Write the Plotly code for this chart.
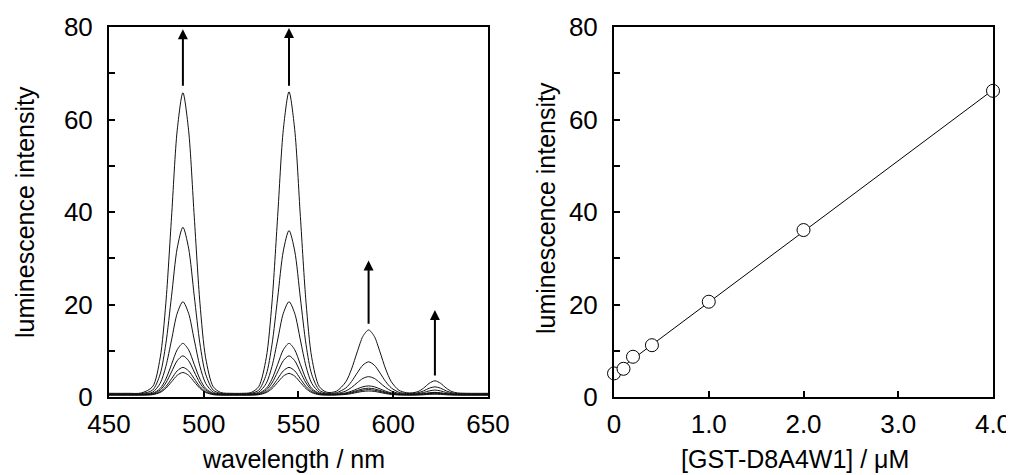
import plotly.graph_objects as go

# --- left panel: luminescence spectra ---
wavelength = [450, 460, 467, 473, 477, 480, 483, 486, 489, 492, 495, 498, 501, 505, 509,
              515, 520, 525, 529, 533, 536, 539, 542, 545, 548, 551, 554, 557, 561, 565,
              570, 575, 578, 581, 584, 587, 590, 593, 596, 599, 603, 607, 610, 613, 616,
              619, 622, 625, 628, 631, 634, 640, 650]

spec_1 = [0.40, 0.40, 0.40, 0.51, 0.98, 1.87, 3.27, 4.69, 5.30, 4.69, 3.27, 1.87, 0.98, 0.51, 0.41,
          0.40, 0.40, 0.41, 0.50, 0.95, 1.81, 3.15, 4.51, 5.10, 4.51, 3.15, 1.81, 0.95, 0.50, 0.41,
          0.43, 0.56, 0.74, 0.99, 1.21, 1.30, 1.21, 0.99, 0.74, 0.56, 0.44, 0.41, 0.41, 0.43, 0.48,
          0.56, 0.60, 0.56, 0.48, 0.43, 0.41, 0.40, 0.40]
spec_2 = [0.45, 0.45, 0.46, 0.58, 1.15, 2.24, 3.94, 5.66, 6.40, 5.66, 3.94, 2.24, 1.15, 0.58, 0.47,
          0.45, 0.45, 0.47, 0.58, 1.15, 2.24, 3.94, 5.66, 6.40, 5.66, 3.94, 2.24, 1.15, 0.58, 0.47,
          0.49, 0.66, 0.89, 1.20, 1.48, 1.60, 1.48, 1.20, 0.89, 0.66, 0.51, 0.46, 0.46, 0.50, 0.59,
          0.73, 0.80, 0.73, 0.59, 0.50, 0.46, 0.45, 0.45]
spec_3 = [0.50, 0.50, 0.51, 0.68, 1.49, 3.02, 5.42, 7.85, 8.90, 7.85, 5.42, 3.02, 1.49, 0.68, 0.52,
          0.50, 0.50, 0.52, 0.68, 1.49, 3.02, 5.42, 7.85, 8.90, 7.85, 5.42, 3.02, 1.49, 0.68, 0.53,
          0.55, 0.75, 1.04, 1.41, 1.76, 1.90, 1.76, 1.41, 1.04, 0.75, 0.57, 0.51, 0.51, 0.55, 0.66,
          0.82, 0.90, 0.82, 0.66, 0.55, 0.51, 0.50, 0.50]
spec_4 = [0.55, 0.55, 0.56, 0.79, 1.85, 3.87, 7.03, 10.22, 11.60, 10.22, 7.03, 3.87, 1.85, 0.79, 0.58,
          0.55, 0.55, 0.58, 0.79, 1.85, 3.87, 7.03, 10.22, 11.60, 10.22, 7.03, 3.87, 1.85, 0.79, 0.59,
          0.61, 0.89, 1.26, 1.76, 2.21, 2.40, 2.21, 1.76, 1.26, 0.89, 0.64, 0.57, 0.56, 0.61, 0.73,
          0.91, 1.00, 0.91, 0.73, 0.61, 0.56, 0.55, 0.55]
spec_5 = [0.60, 0.60, 0.62, 1.04, 2.96, 6.60, 12.32, 18.10, 20.60, 18.10, 12.32, 6.60, 2.96, 1.04, 0.65,
          0.60, 0.60, 0.65, 1.04, 2.96, 6.60, 12.32, 18.10, 20.60, 18.10, 12.32, 6.60, 2.96, 1.04, 0.67,
          0.73, 1.29, 2.06, 3.08, 4.02, 4.40, 4.02, 3.08, 2.06, 1.29, 0.78, 0.63, 0.63, 0.72, 0.97,
          1.32, 1.50, 1.32, 0.97, 0.72, 0.63, 0.60, 0.60]
spec_6 = [0.70, 0.70, 0.74, 1.49, 4.95, 11.50, 21.80, 32.20, 36.70, 32.20, 21.80, 11.50, 4.95, 1.49, 0.79,
          0.70, 0.70, 0.79, 1.48, 4.87, 11.29, 21.39, 31.59, 36.00, 31.59, 21.39, 11.29, 4.87, 1.48, 0.81,
          0.93, 1.96, 3.34, 5.21, 6.90, 7.60, 6.90, 5.21, 3.34, 1.96, 1.03, 0.77, 0.75, 0.90, 1.32,
          1.90, 2.20, 1.90, 1.32, 0.90, 0.74, 0.70, 0.70]
spec_7 = [0.80, 0.80, 0.87, 2.23, 8.47, 20.30, 38.89, 57.68, 65.80, 57.68, 38.89, 20.30, 8.47, 2.23, 0.97,
          0.80, 0.80, 0.97, 2.23, 8.49, 20.36, 39.01, 57.85, 66.00, 57.85, 39.01, 20.36, 8.49, 2.23, 1.02,
          1.25, 3.29, 6.05, 9.75, 13.12, 14.50, 13.12, 9.75, 6.05, 3.29, 1.46, 0.93, 0.90, 1.16, 1.91,
          2.96, 3.50, 2.96, 1.91, 1.16, 0.88, 0.80, 0.80]
spectra = [spec_1, spec_2, spec_3, spec_4, spec_5, spec_6, spec_7]

# --- right panel: intensity vs protein concentration ---
conc_uM = [0, 0.1, 0.2, 0.4, 1.0, 2.0, 4.0]
intensity = [5.1, 6.1, 8.7, 11.2, 20.6, 36.1, 66.2]
conc_ticks = [0, 1, 2, 3, 4]
conc_ticktext = ['0', '1.0', '2.0', '3.0', '4.0']

FONT = 'Liberation Sans, Arial, sans-serif'

# straight-line fit through the points
n = len(conc_uM)
mx = sum(conc_uM) / n
my = sum(intensity) / n
slope = sum((x - mx) * (y - my) for x, y in zip(conc_uM, intensity)) / sum((x - mx) ** 2 for x in conc_uM)
icpt = my - slope * mx
fit_x = [min(conc_uM), max(conc_uM)]
fit_y = [icpt + slope * x for x in fit_x]

fig = go.Figure()

for s in spectra:
    fig.add_trace(go.Scatter(
        x=wavelength, y=s, mode='lines',
        line=dict(color='#111111', width=1, shape='spline', smoothing=0.8),
        xaxis='x', yaxis='y', showlegend=False, hoverinfo='skip'
    ))

fig.add_trace(go.Scatter(
    x=fit_x, y=fit_y, mode='lines', line=dict(color='black', width=1),
    xaxis='x2', yaxis='y2', showlegend=False
))
fig.add_trace(go.Scatter(
    x=conc_uM, y=intensity, mode='markers',
    marker=dict(symbol='circle', size=13, color='white', line=dict(color='black', width=1)),
    xaxis='x2', yaxis='y2', showlegend=False, cliponaxis=False
))

axis_common = dict(
    showline=True, linecolor='black', linewidth=2, mirror=True,
    ticks='inside', ticklen=6, tickwidth=1.5, tickcolor='black',
    showgrid=False, zeroline=False, automargin=False,
    tickfont=dict(family=FONT, size=26, color='black'),
)
minor_y = dict(dtick=10, ticks='inside', ticklen=6, tickwidth=1.5, tickcolor='black')

# page body has an 8px margin, so the figure is shrunk and margins shifted to match
fig.update_layout(
    width=1006, height=467,
    margin=dict(l=101, r=21, t=19, b=78),
    paper_bgcolor='white', plot_bgcolor='white',
    font=dict(family=FONT, size=26, color='black'),
    xaxis=dict(domain=[0, 0.4287], range=[450, 650], dtick=50, ticklabelstandoff=3, **axis_common),
    yaxis=dict(domain=[0, 1], range=[0, 80], dtick=20, ticklabelstandoff=9, minor=minor_y, **axis_common),
    xaxis2=dict(domain=[0.5713, 1], range=[0, 4], tickvals=conc_ticks, ticktext=conc_ticktext,
                ticklabelstandoff=3, anchor='y2', **axis_common),
    yaxis2=dict(domain=[0, 1], range=[0, 80], dtick=20, anchor='x2', ticklabelstandoff=9,
                minor=minor_y, **axis_common),
)

# arrows showing increase with concentration
arrows = [(489, 67, 79.5), (545, 67, 79.8), (587, 15.5, 29.5), (622, 4.3, 18.8)]
for xa, y0, y1 in arrows:
    fig.add_annotation(
        x=xa, y=y1, ax=xa, ay=y0, xref='x', yref='y', axref='x', ayref='y',
        text='', showarrow=True, arrowhead=2, arrowsize=1, arrowwidth=2, arrowcolor='black'
    )

# axis titles, placed by page pixel (plot area spans x 109..993, y 27..397)
titles = [
    dict(text='wavelength / nm', x=293, y=459, textangle=0),
    dict(text='[GST-D8A4W1] / μM', x=795, y=459, textangle=0),
    dict(text='luminescence intensity', x=25, y=212, textangle=-90),
    dict(text='luminescence intensity', x=546, y=208, textangle=-90),
]
for t in titles:
    fig.add_annotation(
        text=t['text'], x=(t['x'] - 109) / 884, y=(397 - t['y']) / 370,
        xref='paper', yref='paper', showarrow=False, textangle=t['textangle'],
        xanchor='center', yanchor='middle',
        font=dict(family=FONT, size=25, color='black')
    )

fig.write_html("out.html")
